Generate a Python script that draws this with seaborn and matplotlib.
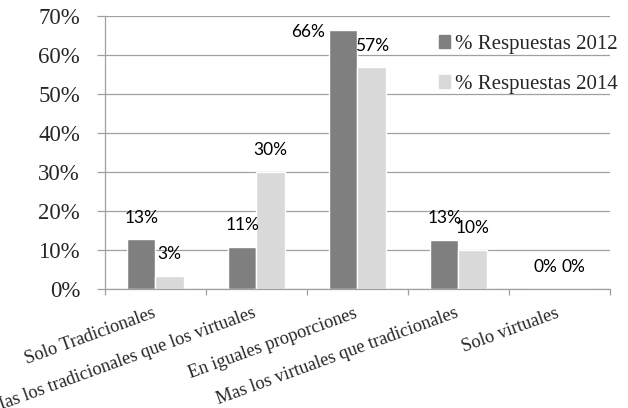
import pandas as pd
import matplotlib.pyplot as plt
import seaborn as sns
from matplotlib.ticker import PercentFormatter, FixedLocator
from matplotlib.patches import Patch
from matplotlib.transforms import ScaledTranslation

categories = ['Solo Tradicionales', 'Mas los tradicionales que los virtuales',
              'En iguales proporciones', 'Mas los virtuales que tradicionales',
              'Solo virtuales']
series = ['% Respuestas 2012', '% Respuestas 2014']
resp_2012 = [0.127, 0.108, 0.662, 0.126, 0.0]
resp_2014 = [0.034, 0.300, 0.567, 0.100, 0.0]
colors = ['#7f7f7f', '#d9d9d9']

df = pd.DataFrame({
    'cat': categories * 2,
    'serie': [series[0]] * 5 + [series[1]] * 5,
    'val': resp_2012 + resp_2014,
})

sns.set_style('white')
plt.rcParams['font.family'] = ['Liberation Serif', 'DejaVu Serif']

fig = plt.figure(figsize=(6.28, 4.08), dpi=100)
ax = fig.add_axes([0.1672, 0.2917, 0.8041, 0.6703])

sns.barplot(data=df, x='cat', y='val', hue='serie', palette=colors,
            width=0.565, saturation=1, order=categories, hue_order=series,
            legend=False, ax=ax)

ax.set_ylim(0, 0.7)
ax.set_xlim(-0.5, 4.5)
ax.yaxis.set_major_formatter(PercentFormatter(1, decimals=0))
ax.set_yticks([i / 10 for i in range(8)])
ax.grid(axis='y', color='#a0a0a0', linewidth=0.9)
ax.set_axisbelow(True)
ax.set_xlabel('')
ax.set_ylabel('')

for s in ['top', 'right']:
    ax.spines[s].set_visible(False)
for s in ['left', 'bottom']:
    ax.spines[s].set_color('#a0a0a0')
    ax.spines[s].set_linewidth(0.9)

ax.tick_params(axis='y', which='major', left=True, length=6, width=0.9,
               color='#a0a0a0', labelsize=16.5, pad=12)
ax.tick_params(axis='x', which='major', bottom=False, length=0, pad=11.5)
ax.xaxis.set_minor_locator(FixedLocator([-0.5, 0.5, 1.5, 2.5, 3.5, 4.5]))
ax.tick_params(axis='x', which='minor', bottom=True, length=4, width=0.9,
               color='#a0a0a0')
shift = ScaledTranslation(-4 / 100, 0, fig.dpi_scale_trans)
for lbl in ax.get_xticklabels():
    lbl.set_rotation(20)
    lbl.set_ha('right')
    lbl.set_va('top')
    lbl.set_rotation_mode('anchor')
    lbl.set_fontsize(13.2)
    lbl.set_transform(lbl.get_transform() + shift)

# data labels
for cont in ax.containers:
    for bar in cont:
        h = bar.get_height()
        x = bar.get_x() + bar.get_width() / 2
        txt = '{:.0f}%'.format(h * 100)
        if h > 0.62:
            off = (-25, -1.5)
        else:
            off = (0, 15.5)
        ax.annotate(txt, (x, h), xytext=off, textcoords='offset points',
                    ha='center', va='center', fontsize=12.5,
                    family=['Lato', 'DejaVu Sans'], color='black')

handles = [Patch(color=c, label=s) for c, s in zip(colors, series)]
fig.legend(handles=handles, loc='upper left', bbox_to_anchor=(0.685, 0.935),
           frameon=False, fontsize=15, handlelength=0.55, handleheight=0.55,
           handletextpad=0.25, labelspacing=1.0, borderaxespad=0)

fig.savefig('out.png', dpi=100)
